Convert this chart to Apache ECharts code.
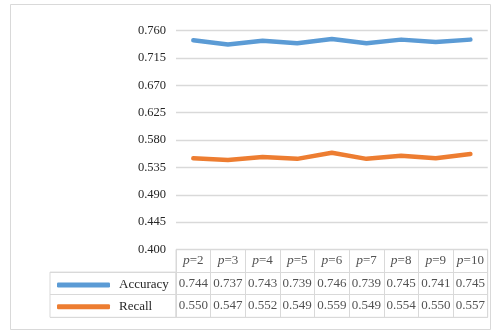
<!DOCTYPE html>
<html>
<head>
<meta charset="utf-8">
<script src="https://cdn.jsdelivr.net/npm/echarts@6/dist/echarts.min.js"></script>
<style>
  html, body { margin: 0; padding: 0; background: #fff; }
  #chart { width: 499px; height: 331px; }
</style>
</head>
<body>
<div id="chart"></div>
<script>
// Window size p and the two metrics measured for each
const categories = ['p=2', 'p=3', 'p=4', 'p=5', 'p=6', 'p=7', 'p=8', 'p=9', 'p=10'];
const accuracy = [0.744, 0.737, 0.743, 0.739, 0.746, 0.739, 0.745, 0.741, 0.745];
const recall = [0.550, 0.547, 0.552, 0.549, 0.559, 0.549, 0.554, 0.550, 0.557];
const seriesNames = ['Accuracy', 'Recall'];

const FONT = '"Liberation Serif", "DejaVu Serif", serif';
const BORDER = '#d9d9d9';
const TEXT = '#262626';
const BLUE = '#5b9bd5';
const ORANGE = '#ed7d31';

const rowKeys = ['head', 'Accuracy', 'Recall'];

// Cells of the data table under the plot
const headCells = categories.map(c => [c, 'head', c]);
const accCells = accuracy.map((v, i) => [categories[i], 'Accuracy', v.toFixed(3)]);
const recCells = recall.map((v, i) => [categories[i], 'Recall', v.toFixed(3)]);

function headLabel(p) {
  const txt = p.data[2];
  return '{i|p}{n|' + txt.slice(1) + '}';
}

const chart = echarts.init(document.getElementById('chart'), null, { renderer: 'canvas' });

chart.setOption({
  backgroundColor: '#fff',
  animation: false,
  textStyle: { fontFamily: FONT },
  graphic: [{
    type: 'rect',
    shape: { x: 10.5, y: 4.5, width: 480, height: 325 },
    style: { fill: 'none', stroke: BORDER, lineWidth: 1 },
    z: 0
  }],
  legend: {
    orient: 'vertical',
    left: 52,
    top: 273,
    itemWidth: 53,
    itemHeight: 5,
    itemGap: 7.7,
    icon: 'roundRect',
    data: seriesNames,
    textStyle: {
      fontFamily: FONT, fontSize: 13, color: TEXT,
      lineHeight: 14, padding: [0, 0, 0, 4]
    },
    selectedMode: false
  },
  grid: [
    { left: 176, right: 11.3, top: 30.5, bottom: 81.5 },
    { left: 176, right: 11.3, top: 249.5, height: 67.8,
      show: true, borderColor: BORDER, borderWidth: 1 },
    { left: 50, width: 126, top: 272.1, height: 45.2,
      show: true, borderColor: BORDER, borderWidth: 1 }
  ],
  xAxis: [
    { gridIndex: 0, type: 'category', data: categories, boundaryGap: true,
      axisLine: { show: false }, axisTick: { show: false },
      axisLabel: { show: false }, splitLine: { show: false } },
    { gridIndex: 1, type: 'category', data: categories, boundaryGap: true,
      axisLine: { show: false }, axisTick: { show: false },
      axisLabel: { show: false },
      splitLine: { show: true, lineStyle: { color: BORDER, width: 1 } } },
    { gridIndex: 2, type: 'category', data: ['legend'],
      axisLine: { show: false }, axisTick: { show: false },
      axisLabel: { show: false }, splitLine: { show: false } }
  ],
  yAxis: [
    { gridIndex: 0, type: 'value', min: 0.4, max: 0.76, interval: 0.045,
      axisLine: { show: false }, axisTick: { show: false },
      axisLabel: { margin: 10, fontFamily: FONT, fontSize: 12.5, color: TEXT,
        formatter: v => v.toFixed(3) },
      splitLine: { show: true, lineStyle: { color: BORDER, width: 1.3 } } },
    { gridIndex: 1, type: 'category', data: rowKeys, inverse: true, boundaryGap: true,
      axisLine: { show: false }, axisTick: { show: false },
      axisLabel: { show: false },
      splitLine: { show: true, lineStyle: { color: BORDER, width: 1 } } },
    { gridIndex: 2, type: 'category', data: ['Accuracy', 'Recall'], inverse: true, boundaryGap: true,
      axisLine: { show: false }, axisTick: { show: false },
      axisLabel: { show: false },
      splitLine: { show: true, lineStyle: { color: BORDER, width: 1 } } }
  ],
  series: [
    { name: 'Accuracy', type: 'line', xAxisIndex: 0, yAxisIndex: 0,
      data: accuracy, color: BLUE, showSymbol: false, symbol: 'none',
      lineStyle: { width: 4.5, color: BLUE, cap: 'round', join: 'round' } },
    { name: 'Recall', type: 'line', xAxisIndex: 0, yAxisIndex: 0,
      data: recall, color: ORANGE, showSymbol: false, symbol: 'none',
      lineStyle: { width: 4.5, color: ORANGE, cap: 'round', join: 'round' } },
    { type: 'scatter', xAxisIndex: 1, yAxisIndex: 1, symbolSize: 0,
      data: headCells, silent: true,
      label: { show: true, position: 'inside', formatter: headLabel,
        rich: {
          i: { fontFamily: FONT, fontStyle: 'italic', fontSize: 13.5, color: TEXT },
          n: { fontFamily: FONT, fontSize: 13, color: TEXT }
        } } },
    { type: 'scatter', xAxisIndex: 1, yAxisIndex: 1, symbolSize: 0,
      data: accCells.concat(recCells), silent: true,
      label: { show: true, position: 'inside', formatter: p => p.data[2],
        fontFamily: FONT, fontSize: 13, color: TEXT } }
  ]
});
</script>
</body>
</html>
